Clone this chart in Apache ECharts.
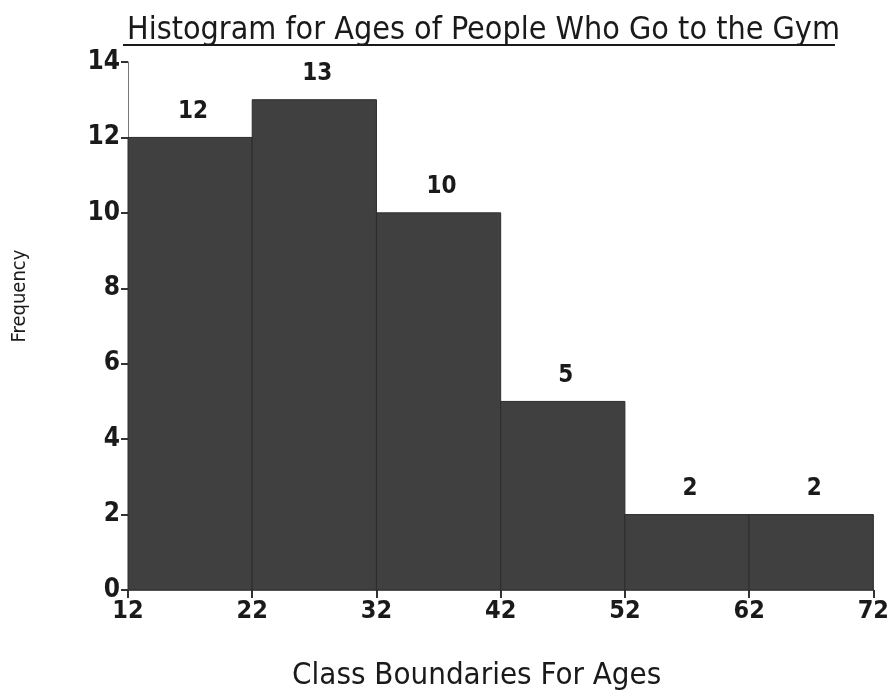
<!DOCTYPE html>
<html>
<head>
<meta charset="utf-8">
<script src="https://cdn.jsdelivr.net/npm/echarts@6/dist/echarts.min.js"></script>
<style>
html,body{margin:0;padding:0;background:#fff;}
#chart{width:892px;height:696px;}
</style>
</head>
<body>
<div id="chart"></div>
<script>
var binStarts = [12, 22, 32, 42, 52, 62];
var binEnds = [22, 32, 42, 52, 62, 72];
var frequencies = [12, 13, 10, 5, 2, 2];
var xTicks = [12, 22, 32, 42, 52, 62, 72];
var yTicks = [0, 2, 4, 6, 8, 10, 12, 14];

var narrow = "'Liberation Sans Narrow', 'Arial Narrow', 'DejaVu Sans Condensed', sans-serif";
var data = binStarts.map(function (s, i) { return [s, binEnds[i], frequencies[i]]; });

var chart = echarts.init(document.getElementById('chart'));
chart.setOption({
  backgroundColor: '#ffffff',
  animation: false,
  title: {
    text: 'Histogram for Ages of People Who Go to the Gym',
    left: 122,
    top: 10,
    textStyle: { fontFamily: narrow, fontSize: 32, fontWeight: 'normal', color: '#1a1a1a' }
  },
  graphic: [{
    type: 'line',
    shape: { x1: 123, y1: 45, x2: 835, y2: 45 },
    style: { stroke: '#1a1a1a', lineWidth: 2 }
  }],
  grid: { left: 128, right: 17, top: 62, bottom: 103 },
  xAxis: {
    type: 'value',
    min: xTicks[0],
    max: xTicks[xTicks.length - 1],
    interval: 10,
    name: 'Class Boundaries For Ages',
    nameLocation: 'middle',
    nameGap: 70,
    nameTextStyle: { fontFamily: narrow, fontSize: 31, color: '#1a1a1a', padding: [0, 48, 0, 0] },
    axisLine: { lineStyle: { color: '#555', width: 1.5 } },
    axisTick: { show: true, length: 8, lineStyle: { color: '#333', width: 2 } },
    axisLabel: { fontFamily: narrow, fontSize: 25, fontWeight: 'bold', color: '#1a1a1a', margin: 9 },
    splitLine: { show: false }
  },
  yAxis: {
    type: 'value',
    min: yTicks[0],
    max: yTicks[yTicks.length - 1],
    interval: 2,
    name: 'Frequency',
    nameLocation: 'middle',
    nameGap: 98,
    nameRotate: 90,
    nameTextStyle: { fontFamily: narrow, fontSize: 20, color: '#1a1a1a', padding: [0, 0, 0, 60] },
    axisLine: { show: true, lineStyle: { color: '#777', width: 1 } },
    axisTick: { show: true, length: 7, lineStyle: { color: '#333', width: 2 } },
    axisLabel: { fontFamily: narrow, fontSize: 26, fontWeight: 'bold', color: '#1a1a1a', margin: 8 },
    splitLine: { show: false }
  },
  series: [{
    type: 'custom',
    data: data,
    encode: { x: [0, 1], y: 2 },
    renderItem: function (params, api) {
      var p0 = api.coord([api.value(0), 0]);
      var p1 = api.coord([api.value(1), api.value(2)]);
      return {
        type: 'group',
        children: [{
          type: 'rect',
          shape: { x: p0[0], y: p1[1], width: p1[0] - p0[0], height: p0[1] - p1[1] },
          style: { fill: '#404040', stroke: '#2c2c2c', lineWidth: 1 }
        }, {
          type: 'text',
          style: {
            text: String(api.value(2)),
            x: (p0[0] + p1[0]) / 2 + 3,
            y: p1[1] - 14,
            textAlign: 'center',
            textVerticalAlign: 'bottom',
            fontFamily: narrow,
            fontSize: 24,
            fontWeight: 'bold',
            fill: '#1a1a1a'
          }
        }]
      };
    }
  }]
});
</script>
</body>
</html>
